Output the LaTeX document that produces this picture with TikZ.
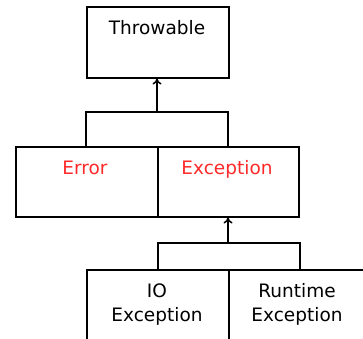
\documentclass[tikz,border=0pt]{standalone}
\usepackage{fontspec}
\setmainfont{DejaVu Sans}
\usetikzlibrary{arrows.meta}
\definecolor{errred}{HTML}{FF2A2A}
\tikzset{
  box/.style={draw=black, line width=1.5pt, fill=white, inner sep=0pt, anchor=north west},
  lbl/.style={font=\fontsize{18.5}{24}\selectfont, text=black, inner sep=0pt, align=center, anchor=base},
  redlbl/.style={lbl, text=errred},
  wire/.style={line width=1.5pt, black},
  up/.style={wire, -{To[length=6pt, width=9pt, line width=1.5pt]}}
}
\begin{document}
\begin{tikzpicture}[x=1pt, y=-1pt]
  \useasboundingbox (0,0) rectangle (363,338);
  \clip (0,0) rectangle (363,338);
  % top class
  \node[box, minimum width=142pt, minimum height=71pt] (thr) at (86,6) {};
  \node[lbl] (thrt) at (157,34) {Throwable};
  % second level
  \node[box, minimum width=142pt, minimum height=70pt] (err) at (15,146) {};
  \node[box, minimum width=141pt, minimum height=70pt] (exc) at (157,146) {};
  \node[redlbl] (errt) at (85,174) {Error};
  \node[redlbl] (exct) at (227,174) {Exception};
  % third level (runs past the page edges)
  \node[box, minimum width=142pt, minimum height=90pt] (ioe) at (86,269) {};
  \node[box, minimum width=142pt, minimum height=90pt] (rte) at (228,269) {};
  \node[lbl] (ioet1) at (157,297) {IO};
  \node[lbl] (ioet2) at (157,321) {Exception};
  \node[lbl] (rtet1) at (297,297) {Runtime};
  \node[lbl] (rtet2) at (297,321) {Exception};
  % inheritance brackets
  \coordinate (j1) at (157,112);
  \coordinate (e1) at (86,146);
  \coordinate (e2) at (228,146);
  \draw[wire] (e1) |- (j1) -| (e2);
  \draw[up] (j1) -- (j1 |- thr.south);
  \coordinate (j2) at (228,243);
  \draw[wire] (ioe.north) |- (j2) -| (rte.north);
  \draw[up] (j2) -- (j2 |- exc.south);
\end{tikzpicture}
\end{document}
